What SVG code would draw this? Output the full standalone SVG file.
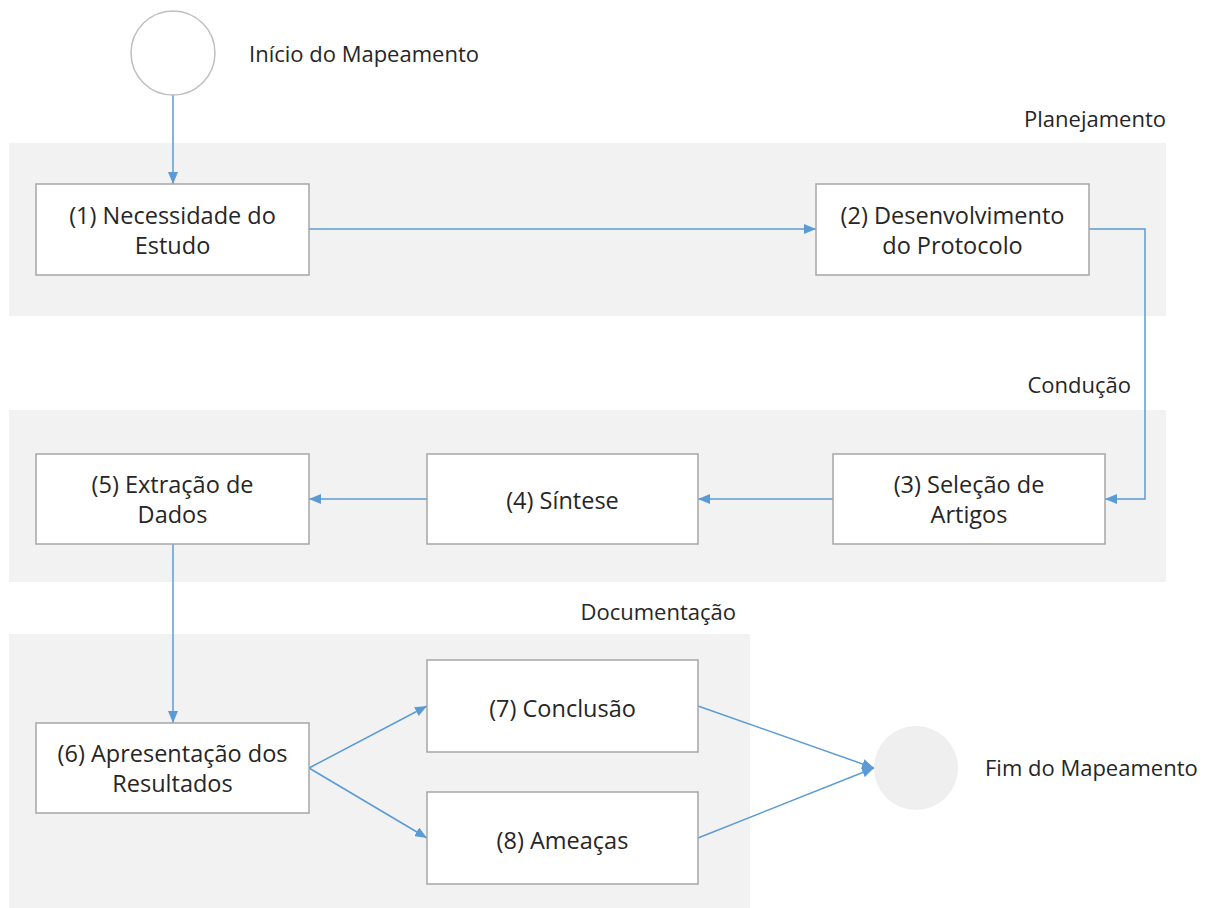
<svg xmlns="http://www.w3.org/2000/svg" width="1208" height="908" viewBox="0 0 1208 908">
  <style>
    .lane { fill: #f2f2f2; }
    .box { fill: #ffffff; stroke: #a6a6a6; stroke-width: 1.5; }
    .txt { font-family: "Open Sans", "Noto Sans", sans-serif; font-size: 23.5px; fill: #262626; text-anchor: middle; }
    .lbl { font-family: "Open Sans", "Noto Sans", sans-serif; font-size: 22px; fill: #262626; }
    .conn { fill: none; stroke: #5b9bd5; stroke-width: 1.5; marker-end: url(#arrow); }
  </style>
  <defs>
    <marker id="arrow" viewBox="0 0 12 10" refX="12" refY="5" markerWidth="12" markerHeight="10" markerUnits="userSpaceOnUse" orient="auto">
      <path d="M0,0 L12,5 L0,10 Z" fill="#5b9bd5"/>
    </marker>
  </defs>

  <rect width="1208" height="908" fill="#ffffff"/>

  <!-- swimlanes -->
  <g id="lanes">
    <rect class="lane" x="9" y="143" width="1157" height="173"/>
    <text class="lbl" x="1166" y="127" text-anchor="end">Planejamento</text>
    <rect class="lane" x="9" y="410" width="1157" height="172"/>
    <text class="lbl" x="1131" y="393" text-anchor="end">Condução</text>
    <rect class="lane" x="9" y="634" width="741" height="274"/>
    <text class="lbl" x="736" y="620" text-anchor="end">Documentação</text>
  </g>

  <!-- connectors -->
  <g id="connectors">
    <path class="conn" d="M173,95 L173,184"/>
    <path class="conn" d="M309,229 L816,229"/>
    <path class="conn" d="M1089,229 L1145,229 L1145,499 L1105,499"/>
    <path class="conn" d="M833,499 L698,499"/>
    <path class="conn" d="M427,499 L309,499"/>
    <path class="conn" d="M173,544 L173,723"/>
    <path class="conn" d="M309,768 L427,706"/>
    <path class="conn" d="M309,768 L427,838"/>
    <path class="conn" d="M698,706 L874,768"/>
    <path class="conn" d="M698,838 L874,768"/>
  </g>

  <g id="start">
    <circle cx="173" cy="53" r="42" fill="#ffffff" stroke="#bfbfbf" stroke-width="1.5"/>
    <text class="lbl" x="249" y="62">Início do Mapeamento</text>
  </g>

  <g id="n1">
    <rect class="box" x="36" y="184" width="273" height="91"/>
    <text class="txt" x="172.5" y="224">(1) Necessidade do</text>
    <text class="txt" x="172.5" y="254">Estudo</text>
  </g>
  <g id="n2">
    <rect class="box" x="816" y="184" width="273" height="91"/>
    <text class="txt" x="952.5" y="224">(2) Desenvolvimento</text>
    <text class="txt" x="952.5" y="254">do Protocolo</text>
  </g>
  <g id="n3">
    <rect class="box" x="833" y="454" width="272" height="90"/>
    <text class="txt" x="969" y="493">(3) Seleção de</text>
    <text class="txt" x="969" y="523">Artigos</text>
  </g>
  <g id="n4">
    <rect class="box" x="427" y="454" width="271" height="90"/>
    <text class="txt" x="562.5" y="509">(4) Síntese</text>
  </g>
  <g id="n5">
    <rect class="box" x="36" y="454" width="273" height="90"/>
    <text class="txt" x="172.5" y="493">(5) Extração de</text>
    <text class="txt" x="172.5" y="523">Dados</text>
  </g>
  <g id="n6">
    <rect class="box" x="36" y="723" width="273" height="90"/>
    <text class="txt" x="172.5" y="762">(6) Apresentação dos</text>
    <text class="txt" x="172.5" y="792">Resultados</text>
  </g>
  <g id="n7">
    <rect class="box" x="427" y="660" width="271" height="92"/>
    <text class="txt" x="562.5" y="717">(7) Conclusão</text>
  </g>
  <g id="n8">
    <rect class="box" x="427" y="792" width="271" height="92"/>
    <text class="txt" x="562.5" y="849">(8) Ameaças</text>
  </g>

  <g id="end">
    <circle cx="916" cy="768" r="42" fill="#efefef"/>
    <text class="lbl" x="985" y="776">Fim do Mapeamento</text>
  </g>
</svg>
